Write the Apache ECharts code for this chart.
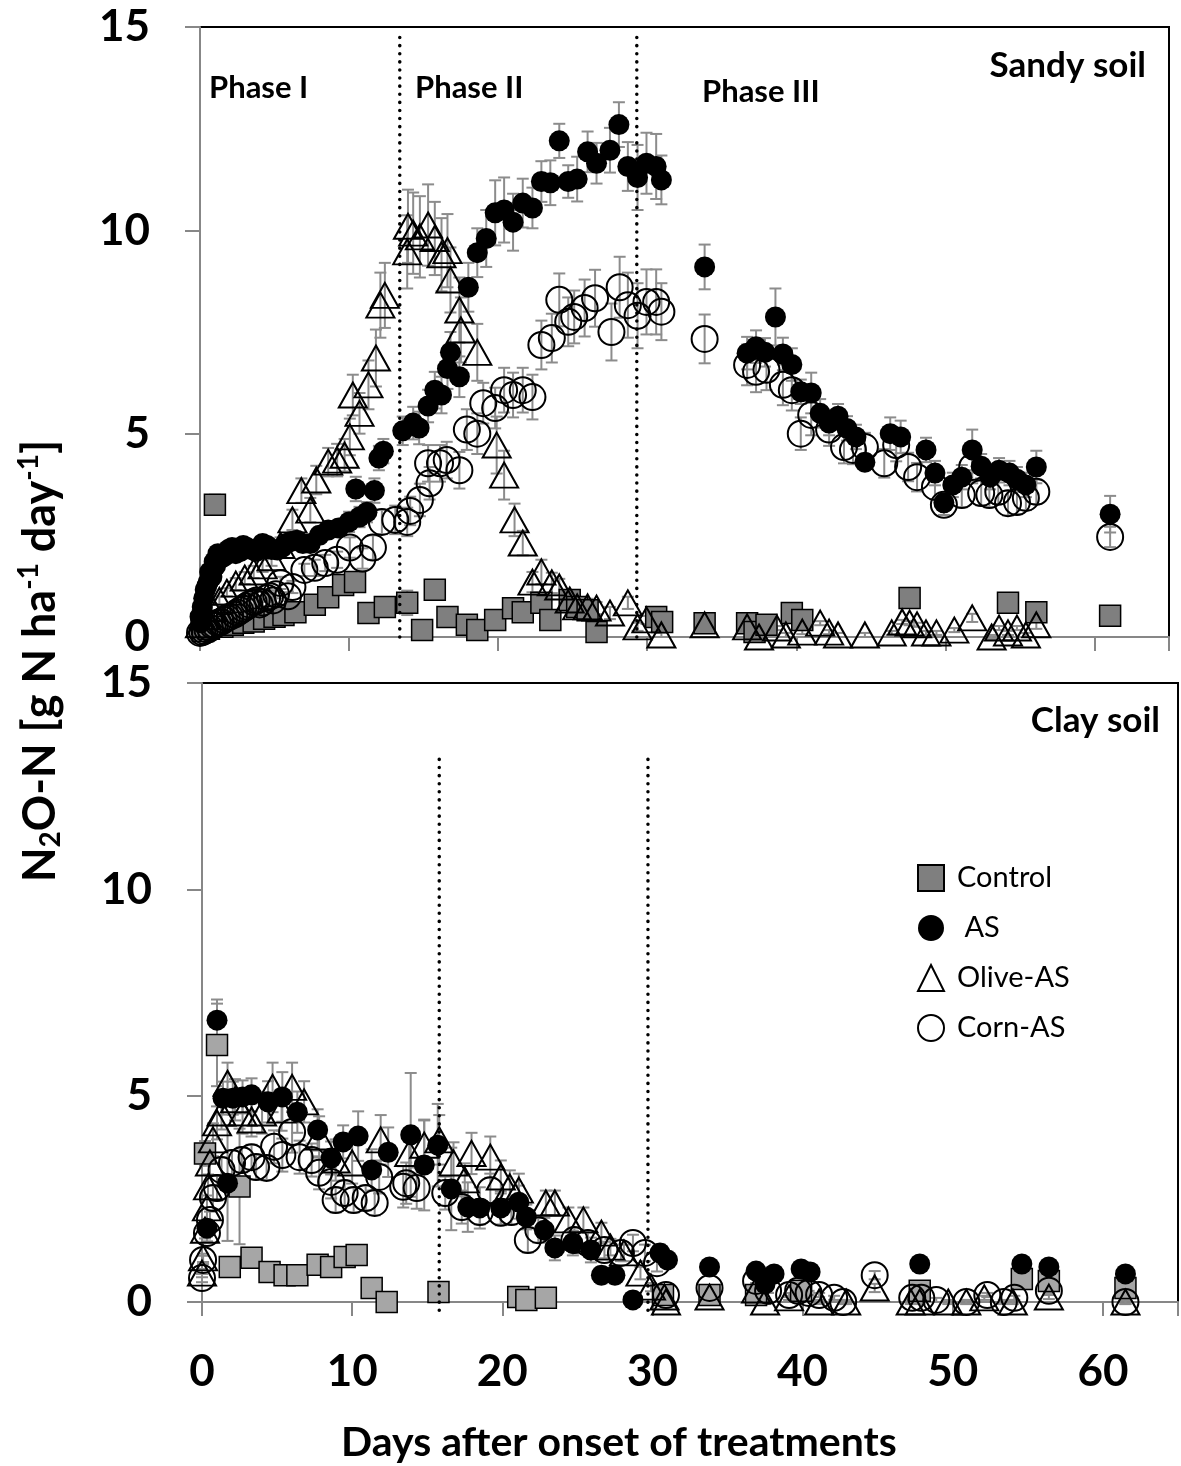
<!DOCTYPE html>
<html><head><meta charset="utf-8">
<script src="https://cdn.jsdelivr.net/npm/echarts@6/dist/echarts.min.js"></script>
<style>html,body{margin:0;padding:0;background:#fff}#c{width:1181px;height:1466px}</style>
</head><body><div id="c"></div>
<script>
// ---------- data: [day, N2O-N, error] ----------
const xTickLabels = [0, 10, 20, 30, 40, 50, 60];
const yTickLabels = [0, 5, 10, 15];
const phaseLinesSandy = [13.4, 29.3];
const phaseLinesClay = [15.8, 29.7];

const sandyControl = [[0.2,0.15,0.05],[0.6,0.2,0.05],[1.0,3.25,0.25],[1.5,0.25,0.05],[2.2,0.3,0.05],[2.9,0.35,0.05],[3.6,0.38,0.08],[4.3,0.45,0.08],[5.0,0.5,0.1],[5.6,0.54,0.1],[6.4,0.61,0.1],[7.7,0.79,0.15],[8.6,0.98,0.15],[9.6,1.28,0.2],[10.4,1.35,0.2],[11.3,0.59,0.15],[12.4,0.74,0.2],[13.9,0.84,0.3],[14.9,0.17,0.1],[15.75,1.16,0.1],[16.6,0.49,0.1],[17.9,0.3,0.15],[18.6,0.17,0.1],[19.8,0.42,0.1],[21.0,0.71,0.15],[21.65,0.61,0.1],[22.9,0.84,0.2],[23.5,0.42,0.1],[24.8,0.91,0.15],[25.3,0.74,0.15],[26.0,0.66,0.1],[26.6,0.12,0.1],[30.6,0.49,0.1],[31.0,0.37,0.1],[33.85,0.34,0.05],[36.7,0.34,0.05],[37.2,0.12,0.05],[38.0,0.3,0.05],[39.7,0.59,0.1],[40.4,0.42,0.1],[47.6,0.96,0.1],[54.2,0.84,0.1],[56.1,0.61,0.1],[61.05,0.52,0.05]];

const sandyAS = [[0,0.5,0.1],[0.05,0.35,0.1],[0.15,0.74,0.1],[0.25,0.95,0.1],[0.35,1.16,0.15],[0.45,1.25,0.15],[0.55,1.35,0.15],[0.65,1.6,0.15],[0.8,1.48,0.15],[0.95,1.85,0.15],[1.05,1.75,0.15],[1.2,2.05,0.15],[1.35,1.94,0.15],[1.5,1.95,0.15],[1.7,2.0,0.15],[1.9,2.15,0.15],[2.15,2.2,0.15],[2.4,2.05,0.15],[2.7,2.1,0.15],[2.9,2.25,0.15],[3.15,2.2,0.15],[3.45,2.15,0.15],[3.75,2.1,0.15],[4.0,2.2,0.15],[4.2,2.3,0.15],[4.5,2.25,0.15],[4.8,2.15,0.15],[5.2,2.14,0.15],[5.5,2.2,0.15],[5.8,2.3,0.15],[6.1,2.35,0.15],[6.5,2.38,0.15],[6.9,2.3,0.2],[7.4,2.3,0.2],[8.0,2.5,0.2],[8.6,2.63,0.2],[9.3,2.68,0.2],[10.0,2.83,0.25],[10.45,3.64,0.3],[10.7,2.95,0.25],[11.2,3.07,0.25],[11.7,3.6,0.3],[12.0,4.4,0.3],[12.3,4.57,0.3],[13.6,5.07,0.35],[14.3,5.26,0.4],[14.7,5.14,0.4],[15.3,5.68,0.4],[15.75,6.07,0.45],[16.2,5.95,0.45],[16.6,6.6,0.5],[16.8,7.0,0.5],[17.4,6.4,0.5],[18.0,8.6,0.6],[18.6,9.45,0.6],[19.2,9.8,0.7],[19.8,10.43,0.8],[20.4,10.5,0.8],[21.0,10.2,0.7],[21.65,10.67,0.6],[22.3,10.55,0.5],[22.9,11.2,0.5],[23.5,11.17,0.55],[24.1,12.2,0.42],[24.7,11.2,0.4],[25.3,11.26,0.55],[26.0,11.93,0.5],[26.6,11.65,0.5],[27.5,11.97,0.55],[28.1,12.6,0.55],[28.7,11.57,0.6],[29.35,11.3,0.8],[29.95,11.65,0.75],[30.6,11.57,0.8],[30.95,11.24,0.6],[33.85,9.1,0.55],[36.7,6.98,0.4],[37.3,7.14,0.4],[37.9,7.0,0.35],[38.6,7.87,0.7],[39.1,6.96,0.4],[39.7,6.7,0.4],[40.3,6.03,0.3],[41.0,6.0,0.5],[41.6,5.5,0.35],[42.2,5.26,0.3],[42.8,5.43,0.3],[43.4,5.13,0.3],[44.0,4.92,0.3],[44.6,4.3,0.2],[46.3,5.0,0.4],[47.0,4.92,0.4],[48.7,4.6,0.3],[49.3,4.03,0.3],[49.9,3.3,0.2],[50.5,3.74,0.3],[51.1,3.93,0.3],[51.8,4.6,0.5],[52.4,4.2,0.3],[53.0,3.93,0.3],[53.6,4.1,0.3],[54.3,4.03,0.3],[54.8,3.88,0.3],[55.4,3.74,0.3],[56.1,4.18,0.4],[61.05,3.02,0.45]];

const sandyOlive = [[0,0.3,0.05],[0.4,0.5,0.1],[0.8,0.7,0.1],[1.3,0.9,0.1],[1.8,1.1,0.1],[2.4,1.3,0.15],[3.0,1.45,0.15],[3.6,1.6,0.15],[4.2,1.75,0.15],[4.8,1.95,0.2],[5.4,2.25,0.2],[6.2,2.88,0.25],[6.8,3.6,0.3],[7.4,3.12,0.3],[7.8,3.86,0.35],[8.6,4.3,0.35],[9.2,4.35,0.4],[9.7,4.47,0.4],[10.05,4.92,0.45],[10.25,5.95,0.5],[10.7,5.5,0.5],[11.3,6.2,0.6],[11.8,6.86,0.7],[12.1,8.16,0.8],[12.4,8.4,0.8],[13.9,9.47,0.9],[13.95,10.1,0.9],[14.3,9.93,1.0],[14.75,9.84,1.0],[15.3,10.13,1.0],[15.75,9.8,0.9],[16.2,9.4,0.9],[16.6,9.5,0.9],[16.8,8.78,0.8],[17.4,8.04,0.8],[17.5,7.55,0.8],[18.6,7.0,0.7],[19.9,4.72,0.7],[20.4,3.98,0.6],[21.1,2.88,0.4],[21.65,2.31,0.3],[22.3,1.35,0.25],[22.9,1.6,0.3],[23.6,1.33,0.25],[24.1,1.23,0.2],[24.8,0.91,0.2],[25.3,0.74,0.2],[26.0,0.74,0.2],[26.6,0.71,0.15],[27.5,0.59,0.15],[28.7,0.84,0.15],[29.35,0.25,0.1],[29.95,0.42,0.1],[30.95,0.05,0.05],[33.85,0.3,0.05],[36.7,0.25,0.05],[37.5,0,0.05],[38.7,0.22,0.05],[39.3,0.05,0.05],[40.4,0.12,0.05],[41.6,0.34,0.05],[42.2,0.12,0.05],[42.8,0.05,0.05],[44.6,0.05,0.05],[46.4,0.1,0.05],[47.1,0.37,0.05],[47.6,0.34,0.05],[48.1,0.3,0.05],[48.7,0.1,0.05],[49.4,0.1,0.05],[50.6,0.17,0.05],[51.8,0.47,0.1],[53.1,0,0.05],[53.6,0.22,0.05],[54.2,0.1,0.05],[54.8,0.22,0.05],[55.4,0.05,0.05],[56.1,0.3,0.1]];

const sandyCorn = [[0,0.1,0.05],[0.15,0.12,0.05],[0.3,0.15,0.05],[0.5,0.18,0.05],[0.67,0.22,0.05],[0.85,0.28,0.05],[1.0,0.3,0.05],[1.2,0.35,0.05],[1.4,0.37,0.1],[1.6,0.42,0.1],[1.8,0.47,0.1],[2.0,0.5,0.1],[2.3,0.55,0.1],[2.5,0.6,0.1],[2.7,0.65,0.1],[2.9,0.7,0.1],[3.1,0.75,0.1],[3.3,0.8,0.1],[3.6,0.86,0.1],[3.8,0.9,0.1],[4.0,0.8,0.1],[4.2,0.85,0.1],[4.5,0.96,0.1],[4.7,1.0,0.1],[4.9,0.9,0.1],[5.1,1.05,0.1],[5.4,1.33,0.15],[5.9,1.0,0.1],[6.2,1.23,0.15],[7.0,1.65,0.15],[7.7,1.7,0.2],[8.4,1.82,0.2],[9.2,1.9,0.2],[10.05,2.2,0.25],[10.9,1.93,0.25],[11.6,2.2,0.3],[12.2,2.83,0.3],[13.1,2.88,0.35],[13.9,2.83,0.35],[14.1,3.1,0.35],[14.75,3.37,0.4],[15.3,4.27,0.45],[15.4,3.78,0.4],[16.1,4.27,0.45],[16.55,4.35,0.45],[17.4,4.1,0.45],[17.9,5.1,0.5],[18.6,5.0,0.5],[19.0,5.75,0.5],[19.8,5.63,0.5],[20.4,6.07,0.55],[21.0,5.95,0.55],[21.65,6.07,0.55],[22.3,5.9,0.55],[22.9,7.18,0.6],[23.6,7.35,0.6],[24.1,8.29,0.65],[24.7,7.75,0.6],[25.1,7.87,0.65],[25.8,8.09,0.7],[26.5,8.33,0.7],[27.6,7.5,0.7],[28.15,8.6,0.75],[28.7,8.16,0.8],[29.35,7.9,0.8],[29.95,8.24,0.8],[30.6,8.24,0.8],[30.95,8.0,0.7],[33.85,7.33,0.6],[36.7,6.69,0.5],[37.3,6.52,0.5],[38.0,6.57,0.5],[39.1,6.2,0.5],[39.7,6.07,0.5],[40.3,5.0,0.4],[41.0,5.46,0.5],[42.2,5.1,0.4],[43.2,4.67,0.4],[43.8,4.6,0.35],[44.6,4.67,0.35],[45.9,4.27,0.35],[46.7,4.72,0.4],[47.5,4.18,0.35],[48.1,3.93,0.35],[49.3,3.69,0.3],[49.9,3.25,0.25],[51.1,3.49,0.3],[51.8,4.18,0.4],[52.4,3.54,0.3],[52.95,3.49,0.3],[53.55,3.57,0.3],[54.2,3.29,0.3],[54.8,3.32,0.3],[55.4,3.42,0.3],[56.1,3.57,0.3],[61.05,2.46,0.25]];

const clayControl = [[0.2,3.6,0.3],[1.0,6.23,1.0],[1.85,0.85,0.2],[2.5,2.8,1.4],[3.3,1.07,0.2],[4.5,0.73,0.1],[5.5,0.65,0.1],[6.35,0.65,0.1],[7.7,0.9,0.1],[8.6,0.85,0.1],[9.5,1.09,0.1],[10.3,1.14,0.1],[11.3,0.34,0.1],[12.3,0.0,0.05],[15.75,0.24,0.05],[21.06,0.12,0.05],[21.6,0.05,0.05],[22.9,0.1,0.05],[30.7,0.17,0.05],[33.8,0.17,0.05],[36.9,0.17,0.05],[39.9,0.27,0.05],[47.8,0.27,0.05],[54.6,0.56,0.05],[56.4,0.51,0.05],[61.5,0.34,0.05]];

const clayAS = [[0.33,1.79,0.2],[1.0,6.83,0.5],[1.4,4.94,0.4],[1.7,2.88,1.4],[2.05,4.94,0.4],[2.7,4.97,0.4],[3.3,5.02,0.4],[4.4,4.85,0.5],[5.35,4.97,0.6],[6.35,4.6,0.5],[7.7,4.17,0.5],[8.6,3.49,0.4],[9.4,3.88,0.4],[10.4,4.02,0.6],[11.3,3.2,0.5],[12.4,3.63,0.6],[13.9,4.05,1.5],[14.8,3.32,1.1],[15.7,3.8,1.0],[16.6,2.74,1.0],[17.7,2.3,0.6],[18.5,2.28,0.5],[19.9,2.28,0.4],[21.1,2.42,0.4],[21.6,2.06,0.3],[22.8,1.74,0.3],[23.5,1.31,0.3],[24.7,1.43,0.3],[25.9,1.26,0.3],[26.6,0.65,0.2],[27.5,0.65,0.2],[28.7,0.05,0.1],[30.5,1.19,0.2],[31.0,1.02,0.2],[33.8,0.85,0.05],[36.9,0.75,0.05],[37.5,0.44,0.05],[38.1,0.68,0.05],[39.9,0.8,0.05],[40.5,0.73,0.05],[47.8,0.92,0.05],[54.6,0.92,0.05],[56.4,0.85,0.05],[61.5,0.68,0.05]];

const clayOlive = [[0,0.7,0.1],[0.07,1.07,0.1],[0.2,1.74,0.2],[0.33,2.28,0.3],[0.4,2.79,0.3],[0.53,3.37,0.3],[0.73,3.93,0.4],[1.0,4.34,0.4],[1.3,4.58,0.4],[1.7,5.3,0.5],[2.2,4.9,0.5],[2.7,4.58,0.5],[3.3,4.41,0.4],[4.0,4.58,0.5],[4.7,5.2,0.6],[5.3,4.65,0.5],[6.0,5.2,0.6],[6.8,4.85,0.5],[7.8,4.0,0.5],[8.9,3.44,0.5],[10.0,3.37,0.5],[11.9,3.93,0.6],[13.8,3.6,0.5],[14.8,3.8,0.6],[15.8,3.93,0.6],[16.75,3.37,0.5],[17.5,2.96,0.4],[17.95,3.6,0.5],[19.2,3.51,0.5],[19.9,3.03,0.4],[20.5,2.79,0.4],[21.1,2.71,0.4],[22.9,2.4,0.3],[23.5,2.4,0.3],[24.4,1.99,0.3],[25.4,1.99,0.3],[26.6,1.67,0.25],[27.2,1.33,0.2],[28.1,1.19,0.2],[29.2,0.7,0.15],[29.9,0.36,0.1],[30.8,0.12,0.05],[30.9,0,0.05],[33.8,0.12,0.05],[36.9,0.29,0.05],[37.5,0,0.05],[39.1,0.1,0.05],[41.1,0,0.05],[42.9,0,0.05],[44.8,0.34,0.1],[47.2,0,0.05],[47.8,0,0.05],[49.7,0,0.05],[50.9,0,0.05],[52.1,0.1,0.05],[54.0,0,0.05],[56.4,0.12,0.05],[61.5,0,0.05]];

const clayCorn = [[0,0.58,0.1],[0.07,1.02,0.1],[0.33,1.67,0.2],[0.53,1.99,0.2],[0.73,2.52,0.3],[1.0,2.76,0.3],[1.3,3.2,0.3],[2.0,3.37,0.3],[2.65,3.44,0.3],[3.3,3.51,0.3],[3.6,3.27,0.3],[4.3,3.25,0.3],[4.8,3.76,0.4],[5.35,3.56,0.4],[6.0,4.12,0.5],[6.5,3.51,0.4],[7.3,3.44,0.4],[7.8,3.13,0.4],[8.6,2.91,0.4],[8.9,2.47,0.3],[9.5,2.64,0.3],[10.1,2.47,0.3],[10.9,2.52,0.3],[11.5,2.4,0.3],[11.8,3.03,0.4],[13.4,2.79,0.5],[13.6,2.88,0.5],[14.3,2.76,0.5],[16.2,2.64,0.4],[17.3,2.3,0.4],[18.5,2.18,0.3],[19.2,2.71,0.4],[19.9,2.16,0.3],[20.6,2.18,0.3],[21.7,1.5,0.3],[22.4,1.74,0.3],[24.8,1.5,0.3],[25.7,1.43,0.25],[26.8,1.26,0.2],[27.9,1.19,0.2],[28.7,1.43,0.2],[29.5,1.19,0.2],[30.3,0.94,0.2],[30.9,0.17,0.05],[33.8,0.34,0.05],[36.9,0.51,0.05],[37.7,0.27,0.05],[39.1,0.17,0.05],[39.7,0.27,0.05],[40.4,0.22,0.05],[41.1,0.17,0.05],[42.1,0.1,0.05],[42.7,0,0.05],[44.8,0.65,0.1],[47.3,0.1,0.05],[47.9,0.1,0.05],[48.9,0.05,0.05],[50.9,0,0.05],[52.3,0.17,0.05],[53.4,0,0.05],[54.1,0.1,0.05],[56.4,0.27,0.05],[61.5,0,0.05]];

// ---------- chart ----------
const FONT = 'Lato';
const chart = echarts.init(document.getElementById('c'), null, {renderer: 'canvas'});

function errRender(params, api) {
  const x = api.value(0), y = api.value(1), e = api.value(2);
  const hi = api.coord([x, y + e]), lo = api.coord([x, y - e]);
  const w = 6;
  const st = {stroke: '#8c8c8c', lineWidth: 2};
  return {type: 'group', children: [
    {type: 'line', shape: {x1: hi[0], y1: hi[1], x2: lo[0], y2: lo[1]}, style: st},
    {type: 'line', shape: {x1: hi[0] - w, y1: hi[1], x2: hi[0] + w, y2: hi[1]}, style: st},
    {type: 'line', shape: {x1: lo[0] - w, y1: lo[1], x2: lo[0] + w, y2: lo[1]}, style: st}
  ]};
}

const styles = {
  Control: {symbol: 'rect', symbolSize: 21, itemStyle: {color: '#7f7f7f', borderColor: '#000', borderWidth: 1.5, opacity: 1}},
  AS: {symbol: 'circle', symbolSize: 21, itemStyle: {color: '#000', opacity: 1}},
  'Olive-AS': {symbol: 'triangle', symbolSize: [28, 25], itemStyle: {color: 'rgba(255,255,255,0)', borderColor: '#000', borderWidth: 2, opacity: 1}},
  'Corn-AS': {symbol: 'circle', symbolSize: 26, itemStyle: {color: 'rgba(255,255,255,0)', borderColor: '#000', borderWidth: 2, opacity: 1}}
};

const series = [];
function addPanel(idx, sets) {
  sets.forEach(([name, data]) => {
    series.push({type: 'custom', xAxisIndex: idx, yAxisIndex: idx, renderItem: errRender,
      data: data, encode: {x: 0, y: 1}, silent: true, clip: false, z: 2});
    const st = JSON.parse(JSON.stringify(styles[name]));
    if (name === 'Control' && idx === 1) st.itemStyle.color = '#a6a6a6';
    series.push(Object.assign({type: 'scatter', name: name, xAxisIndex: idx, yAxisIndex: idx,
      data: data.map(d => [d[0], d[1]]), clip: false, z: 2, emphasis: {disabled: true}}, st));
  });
}
addPanel(0, [['Control', sandyControl], ['AS', sandyAS], ['Olive-AS', sandyOlive], ['Corn-AS', sandyCorn]]);
addPanel(1, [['Control', clayControl], ['AS', clayAS], ['Olive-AS', clayOlive], ['Corn-AS', clayCorn]]);

const dotted = {color: '#000', width: 3.5, type: [0.1, 8], cap: 'round'};
phaseLinesSandy.forEach(x => series.push({type: 'line', xAxisIndex: 0, yAxisIndex: 0, data: [[x, 0], [x, 14.9]],
  symbol: 'none', lineStyle: dotted, clip: false, z: 5, silent: true}));
phaseLinesClay.forEach(x => series.push({type: 'line', xAxisIndex: 1, yAxisIndex: 1, data: [[x, -0.2], [x, 13.3]],
  symbol: 'none', lineStyle: dotted, clip: false, z: 5, silent: true}));

const axisLineStyle = {color: '#878787', width: 2};
function xAxis(idx, showLabels) {
  return {type: 'value', gridIndex: idx, min: 0, max: 65, interval: 10,
    axisLine: {show: true, onZero: false, lineStyle: axisLineStyle},
    axisTick: {show: true, inside: false, length: 14, lineStyle: axisLineStyle},
    splitLine: {show: false},
    axisLabel: {show: showLabels, margin: 48, fontFamily: FONT, fontWeight: 'bold', fontSize: 44, color: '#000',
      formatter: v => (xTickLabels.indexOf(v) >= 0 ? String(v) : '')}};
}
function yAxis(idx) {
  return {type: 'value', gridIndex: idx, min: 0, max: 15, interval: 5,
    axisLine: {show: true, lineStyle: axisLineStyle},
    axisTick: {show: true, inside: false, length: 15, lineStyle: axisLineStyle},
    splitLine: {show: false},
    axisLabel: {show: true, margin: 50, fontFamily: FONT, fontWeight: 'bold', fontSize: 44, color: '#000',
      formatter: v => (yTickLabels.indexOf(v) >= 0 ? String(v) : '')}};
}

const txt = (text, x, y, size, align, weight) => ({type: 'text', x: x, y: y, z: 10,
  style: {text: text, fontFamily: FONT, fontSize: size, fontWeight: weight || 'bold', fill: '#000', align: align || 'left', verticalAlign: 'middle'}});

chart.setOption({
  animation: false,
  backgroundColor: '#fff',
  grid: [
    {left: 200, top: 27, width: 969, height: 610, show: true, borderColor: '#000', borderWidth: 2, backgroundColor: 'transparent'},
    {left: 202, top: 683, width: 982, height: 619, show: true, borderColor: '#000', borderWidth: 2, backgroundColor: 'transparent'}
  ],
  xAxis: [xAxis(0, false), xAxis(1, true)],
  yAxis: [yAxis(0), yAxis(1)],
  legend: {
    data: ['Control', 'AS', 'Olive-AS', 'Corn-AS'], orient: 'vertical', left: 912, top: 858,
    itemWidth: 26, itemHeight: 26, itemGap: 20, selectedMode: false,
    formatter: n => (n === 'AS' ? ' AS' : n),
    textStyle: {fontFamily: FONT, fontSize: 29, color: '#000', lineHeight: 30, padding: [0, 0, 0, 8]}
  },
  graphic: [
    txt('Phase I', 209, 88, 31, 'left'),
    txt('Phase II', 415, 88, 31, 'left'),
    txt('Phase III', 702, 92, 31, 'left'),
    txt('Sandy soil', 1146, 66, 35, 'right'),
    txt('Clay soil', 1160, 721, 35, 'right'),
    txt('Days after onset of treatments', 619, 1443, 41, 'center'),
    {type: 'text', x: 40, y: 661, rotation: Math.PI / 2, z: 10,
      style: {text: '{b|N}{s|2}{b|O-N [g N ha}{p|-1}{b| day}{p|-1}{b|]}', align: 'center', verticalAlign: 'middle',
        fill: '#000',
        rich: {
          b: {fontFamily: FONT, fontWeight: 'bold', fontSize: 45, lineHeight: 50, fill: '#000'},
          s: {fontFamily: FONT, fontWeight: 'bold', fontSize: 28, lineHeight: 28, verticalAlign: 'bottom', fill: '#000'},
          p: {fontFamily: FONT, fontWeight: 'bold', fontSize: 28, lineHeight: 28, verticalAlign: 'top', fill: '#000'}
        }}}
  ],
  series: series
});
</script>
</body></html>
